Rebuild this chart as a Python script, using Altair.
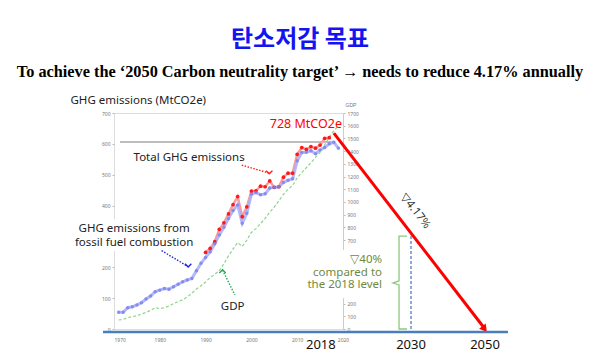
import altair as alt
import pandas as pd

# ---------------- data ----------------
years_fuel = list(range(1971, 2020))
co2_fuel = [54, 54, 69, 72, 78, 85, 97, 107, 121, 126, 131, 129, 137, 145, 153, 159, 164, 189, 213,
            232, 250, 276, 305, 330, 358, 384, 402, 343, 375,
            437, 442, 435, 438, 457, 459, 461, 475, 482, 487,
            545, 572, 573, 578, 568, 580, 588, 600, 605, 586]

years_total = list(range(1990, 2018))
ghg_total = [248, 261, 283, 323, 344, 373, 403, 429, 364, 396,
             447, 448, 463, 461, 480, 459, 461, 492, 505, 505,
             566, 588, 582, 591, 586, 596, 618, 620]

years_gdp = list(range(1971, 2020))
gdp = [71, 76, 90, 97, 104, 118, 130, 147, 168, 160, 168, 180, 200, 216, 230, 252, 282, 315, 340,
       370, 405, 430, 460, 515, 575, 630, 680, 650, 700,
       760, 790, 830, 870, 920, 960, 1010, 1060, 1100, 1130,
       1190, 1230, 1270, 1310, 1350, 1390, 1450, 1510, 1560, 1600]

x_ticks = [1970, 1980, 1990, 2000, 2010, 2020]
# tick labels visible in the slide (the others are covered by text boxes)
y_ticks = [0, 100, 200, 400, 500, 600, 700]
gdp_ticks = [0, 100, 200, 700, 800, 900, 1000, 1100, 1200, 1300, 1400, 1500, 1600, 1700]

# annotation anchors (in data units: year, MtCO2e)
ref_level = 606
arrow_start = (2018, 635)
arrow_end = (2050, 0)
target_year = 2030
target_value = 309
baseline_value = -9.7
bottom_label_value = -52

# ---------------- scales / axes ----------------
XS = alt.Scale(domain=[1970, 2020, 2030, 2050], range=[0, 229, 297, 371], nice=False, zero=False)
YS = alt.Scale(domain=[0, 700], nice=False, zero=False)
GS = alt.Scale(domain=[0, 1700], nice=False, zero=False)

X_AXIS = alt.Axis(values=x_ticks, format='d', domain=False, ticks=False, grid=False, title=None,
                  labelFontSize=5, labelColor='#777', labelPadding=8, labelFont='Noto Sans')
Y_AXIS = alt.Axis(orient='left', values=y_ticks, format='d', domain=False, tickSize=2, tickColor='#bbb',
                  grid=False, labelFontSize=5, labelColor='#777', labelPadding=2, labelFont='Noto Sans',
                  title='GHG emissions (MtCO2e)', titleAngle=0, titleX=-44, titleY=-13,
                  titleAlign='left', titleBaseline='middle', titleFontSize=11.5,
                  titleFontWeight='normal', titleFont='Noto Sans', titleColor='#222')
G_AXIS = alt.Axis(orient='right', values=gdp_ticks, format='d', domain=True, domainColor='#ccc', tickSize=2,
                  tickColor='#bbb', grid=False, labelFontSize=5, labelColor='#777', labelPadding=2,
                  labelFont='Noto Sans', title='GDP', titleAngle=0, titleX=2, titleY=-9,
                  titleAlign='left', titleBaseline='middle', titleFontSize=5,
                  titleFontWeight='normal', titleColor='#777')


def ex(f):
    return alt.X(f + ':Q', scale=XS, axis=X_AXIS)


def ey(f):
    return alt.Y(f + ':Q', scale=YS, axis=Y_AXIS)


df_fuel = pd.DataFrame({'year': years_fuel, 'v': co2_fuel})
df_total = pd.DataFrame({'year': years_total, 'v': ghg_total})
df_gdp = pd.DataFrame({'year': years_gdp, 'g': gdp})

gdp_line = alt.Chart(df_gdp).mark_line(color='#8fd48f', strokeDash=[3, 2], strokeWidth=1.2).encode(
    x=ex('year'), y=alt.Y('g:Q', scale=GS, axis=G_AXIS))

red_line = alt.Chart(df_total).mark_line(color='#ff9a9a', strokeWidth=2.5).encode(x=ex('year'), y=ey('v'))
red_pts = alt.Chart(df_total).mark_point(filled=True, color='#ff1a1a', size=14, opacity=1).encode(
    x=ex('year'), y=ey('v'))
blue_line = alt.Chart(df_fuel).mark_line(color='#aab0f7', strokeWidth=3, opacity=0.9).encode(
    x=ex('year'), y=ey('v'))
blue_pts = alt.Chart(df_fuel).mark_point(filled=True, color='#7d84f0', size=12, opacity=0.85).encode(
    x=ex('year'), y=ey('v'))

# white text boxes (they hide the axes behind the notes, as in the slide)
df_box = pd.DataFrame({'x': [2012.4, 1962.1], 'x2': [2026.2, 1986.6], 'y': [100, 253], 'y2': [256, 356]})
note_box = alt.Chart(df_box).mark_rect(color='white').encode(x=ex('x'), x2='x2:Q', y=ey('y'), y2='y2:Q')

# gray reference line at the 2018 level
df_ref = pd.DataFrame({'x': [1971.3], 'x2': [arrow_start[0]], 'y': [ref_level]})
ref_rule = alt.Chart(df_ref).mark_rule(color='#7f7f7f', strokeWidth=1.2).encode(
    x=ex('x'), x2='x2:Q', y=ey('y'))

# blue baseline
df_base = pd.DataFrame({'x': [1967.6], 'x2': [2056.2], 'y': [baseline_value]})
base_rule = alt.Chart(df_base).mark_rule(color='#4a7ebb', strokeWidth=2.5).encode(
    x=ex('x'), x2='x2:Q', y=ey('y'))

# red reduction arrow
df_arrow = pd.DataFrame({'x': [arrow_start[0]], 'y': [arrow_start[1]], 'x2': [arrow_end[0]], 'y2': [arrow_end[1]]})
arrow_rule = alt.Chart(df_arrow).mark_rule(color='#ff0000', strokeWidth=3).encode(
    x=ex('x'), y=ey('y'), x2='x2:Q', y2='y2:Q')
df_head = pd.DataFrame({'x': [arrow_end[0] - 0.3], 'y': [arrow_end[1] + 3]})
arrow_head = alt.Chart(df_head).mark_point(shape='triangle', filled=True, color='#ff0000', size=70,
                                           angle=142, opacity=1).encode(x=ex('x'), y=ey('y'))

# 2030 dashed line
df_2030 = pd.DataFrame({'x': [target_year], 'y': [0], 'y2': [target_value]})
rule_2030 = alt.Chart(df_2030).mark_rule(color='#4472c4', strokeDash=[3, 2], strokeWidth=1.2).encode(
    x=ex('x'), y=ey('y'), y2='y2:Q')

# curly bracket
br_x = [2029.41, 2028.24, 2028.24, 2027.35, 2028.24, 2028.24, 2029.41]
br_y = [301, 301, 156, 149, 143, 0, 0]
df_br = pd.DataFrame({'x': br_x, 'y': br_y, 'o': list(range(len(br_x)))})
bracket = alt.Chart(df_br).mark_line(color='#8cc97c', strokeWidth=1.3).encode(
    x=ex('x'), y=ey('y'), order='o:Q')

# dotted annotation pointers
ptr_x = [1997.9, 2003.9, 1980.4, 1986.2, 1996.4, 1993.7]
ptr_y = [531, 505, 254, 202, 110, 191]
ptr_g = ['total', 'total', 'fuel', 'fuel', 'gdp', 'gdp']
df_ptr = pd.DataFrame({'x': ptr_x, 'y': ptr_y, 'g': ptr_g})
ptr_colors = alt.Scale(domain=['total', 'fuel', 'gdp'], range=['#ff2020', '#2222dd', '#22aa55'])
pointers = alt.Chart(df_ptr).mark_line(strokeDash=[1.5, 1.5], strokeWidth=1.4).encode(
    x=ex('x'), y=ey('y'), detail='g:N', color=alt.Color('g:N', scale=ptr_colors, legend=None))
df_tip = pd.DataFrame({'x': [2003.9, 1986.2, 1993.7], 'y': [507, 205, 188], 'g': ['total', 'fuel', 'gdp'],
                       'a': [0, 0, 180]})
tips = alt.Chart(df_tip).mark_point(shape='M-1,-0.6L0,0.4L1,-0.6', filled=False, size=40, strokeWidth=1.4,
                                    opacity=1).encode(
    x=ex('x'), y=ey('y'), angle=alt.Angle('a:Q', scale=None),
    color=alt.Color('g:N', scale=ptr_colors, legend=None))


def label(df, color, size, align='center', baseline='middle', font='Noto Sans', angle=0, dx=0, weight='normal'):
    return alt.Chart(df).mark_text(color=color, fontSize=size, align=align, baseline=baseline, font=font,
                                   angle=angle, dx=dx, fontWeight=weight).encode(
        x=ex('x'), y=ey('y'), text='t:N')


lab_728 = label(pd.DataFrame({'x': [2011.9], 'y': [664], 't': ['728 MtCO2e']}), '#ff0000', 12.5)
lab_total = label(pd.DataFrame({'x': [1986.4], 'y': [554], 't': ['Total GHG emissions']}), '#222', 11.5)
lab_fuel = label(pd.DataFrame({'x': [1974.4, 1974.4], 'y': [324, 279],
                               't': ['GHG emissions from', 'fossil fuel combustion']}), '#222', 11.5)
lab_gdp = label(pd.DataFrame({'x': [1995.9], 'y': [71], 't': ['GDP']}), '#222', 11.5)
lab_40 = label(pd.DataFrame({'x': [2025.74] * 3, 'y': [224, 181, 143],
                             't': ['▽40%', 'compared to', 'the 2018 level']}), '#6f8a3c', 11.5, align='right')
lab_417 = label(pd.DataFrame({'x': [2031.1], 'y': [382], 't': ['▽4.17%']}), '#333', 11.5, angle=52)
lab_2018 = label(pd.DataFrame({'x': [2018], 'y': [bottom_label_value], 't': ['2018']}), '#111', 13, dx=-13)
lab_2030 = label(pd.DataFrame({'x': [2030, 2050], 'y': [bottom_label_value] * 2, 't': ['2030', '2050']}),
                 '#111', 13)

ghg = alt.layer(note_box, ref_rule, red_line, blue_line, red_pts, blue_pts, arrow_rule, arrow_head, rule_2030,
                bracket, pointers, tips, base_rule, lab_728, lab_total, lab_fuel, lab_gdp, lab_40, lab_417,
                lab_2018, lab_2030)

chart = alt.layer(gdp_line, ghg).resolve_scale(y='independent').properties(
    width=229, height=216,
    autosize='none',
    padding={'left': 106, 'top': 105, 'right': 249, 'bottom': 26},
    title=alt.TitleParams(
        text='탄소저감 목표',
        subtitle='To achieve the ‘2050 Carbon neutrality target’ → needs to reduce 4.17% annually',
        anchor='middle', frame='group', dx=71.5, offset=14,
        font='Noto Sans CJK KR', fontSize=24, fontWeight='bold', color='#1414f0',
        subtitleFont='Liberation Serif', subtitleFontSize=16.3, subtitleFontWeight='bold',
        subtitleColor='#000000', subtitlePadding=12)
).configure_view(stroke='#d4d4d4', strokeWidth=1).configure(background='white')

chart.save('out.html', embed_options={'renderer': 'svg', 'actions': False})
